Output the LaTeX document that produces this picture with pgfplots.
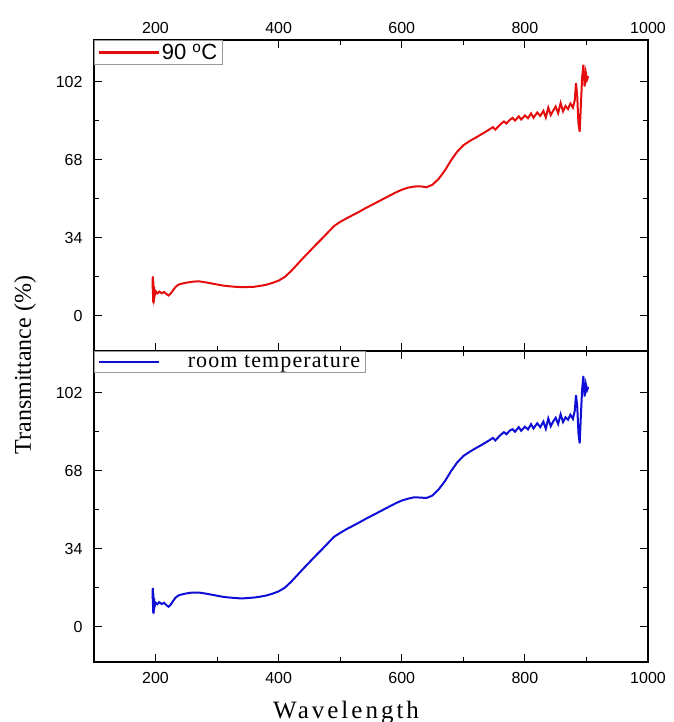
\documentclass[border=0pt]{standalone}
\usepackage{fontspec}
\setmainfont{Liberation Serif}
\setsansfont{Liberation Sans}
\usepackage{pgfplots}
\pgfplotsset{compat=1.18}
\usepackage{pgfplotstable}

\definecolor{hotred}{RGB}{228,12,12}
\definecolor{rtblue}{RGB}{14,14,214}

% transmittance at 90 C
\pgfplotstableread{
wl T
195 12
195.5 17.2
196 6
196.5 15
197 5.5
197.5 13
198 8
200 10.8
203 9.8
206 10.6
210 9.9
214 10.4
218 9.5
221 8.9
224 9.6
228 11
232 12.5
236 13.4
240 13.9
250 14.5
260 14.9
270 15.1
280 14.7
290 14.2
300 13.7
310 13.2
320 12.9
330 12.7
340 12.5
350 12.6
360 12.7
370 13.1
380 13.6
390 14.4
400 15.4
410 17
420 19.5
430 22.4
440 25.3
450 28.1
460 30.9
470 33.6
480 36.4
490 39.2
500 41
510 42.5
520 43.9
530 45.3
540 46.8
550 48.2
560 49.6
570 51
580 52.4
590 53.8
600 55
610 55.9
620 56.4
630 56.5
640 56.1
650 57.2
660 59.8
670 63.4
680 67.8
690 71.6
700 74.4
710 76.2
720 77.7
730 79.3
740 80.9
748 82.3
752 81.2
760 83.5
766 84.8
770 83.9
776 85.6
780 86.3
784 85.2
790 87
794 85.6
800 87.4
805 86.2
810 88.3
814 86.4
820 88.7
825 87.2
830 89.4
834 86.5
838 90.8
842 87.6
846 89.5
850 91.3
854 88.4
858 92.8
862 89.2
866 91.5
870 90.2
874 92.6
878 90.8
881 94
883 101.5
885 96
887 84
889 80.3
891 92
893 104
895 109.5
897 100
899 106
901 103
903 104.5
}\hotdata

% transmittance at room temperature
\pgfplotstableread{
wl T
195 12.5
195.5 17
196 6.2
196.5 14.6
197 5.8
197.5 12.6
198 8.4
200 10.6
203 9.9
206 10.8
210 10
214 10.5
218 9.4
221 8.8
224 9.5
228 11.1
232 12.6
236 13.5
240 14
250 14.6
260 15
270 15
280 14.6
290 14.1
300 13.6
310 13.1
320 12.8
330 12.6
340 12.4
350 12.6
360 12.8
370 13.2
380 13.7
390 14.5
400 15.5
410 17.1
420 19.6
430 22.5
440 25.4
450 28.2
460 31
470 33.7
480 36.5
490 39.3
500 41
510 42.6
520 44
530 45.4
540 46.9
550 48.3
560 49.7
570 51.1
580 52.5
590 53.9
600 55.1
610 55.9
620 56.5
630 56.4
640 56.2
650 57.3
660 60
670 63.5
680 67.9
690 71.7
700 74.5
710 76.3
720 77.9
730 79.4
740 81
748 82.4
752 81.3
760 83.6
766 84.9
770 84
776 85.7
780 86.2
784 85.1
790 87.1
794 85.5
800 87.3
805 86.1
810 88.4
814 86.5
820 88.8
825 87.1
830 89.5
834 86.4
838 90.9
842 87.5
846 89.6
850 91.2
854 88.5
858 92.7
862 89.3
866 91.4
870 90.3
874 92.5
878 90.7
881 94.2
883 101
885 96.4
887 84.5
889 80
891 92.4
893 103.6
895 109.4
897 100.4
899 105.8
901 103.2
903 104.6
}\rtdata

\pgfplotsset{
  panel/.style={
    scale only axis, width=554pt, height=311pt,
    xmin=100, xmax=1000, ymin=-15.3, ymax=120.3,
    xtick={200,400,600,800,1000}, minor x tick num=1,
    ytick={0,34,68,102}, minor y tick num=1,
    tick align=inside, major tick length=8pt, minor tick length=5pt,
    axis line style={line width=1.3pt},
    tick style={line width=1pt, black},
    ticklabel style={font=\sffamily\fontsize{16}{18}\selectfont},
    /pgf/number format/assume math mode=true,
    /pgf/number format/1000 sep={},
    yticklabel style={xshift=-8pt},
    legend style={at={(0,1)}, anchor=north west, draw=gray!80, line width=0.8pt,
      inner xsep=3pt, inner ysep=1.5pt, nodes={inner sep=2pt}},
    legend cell align=left,
    legend image code/.code={\draw[#1, line width=2.4pt] (0pt,0pt) -- (60pt,0pt);},
  }
}

\begin{document}
\begin{tikzpicture}
\path[use as bounding box] (-94pt,-371pt) rectangle (579pt,351pt);

\begin{axis}[panel, name=top, xticklabel pos=upper,
  xticklabel style={yshift=3pt},
  legend style={font=\sffamily\fontsize{22}{25}\selectfont}]
\addplot[hotred, line width=2pt, mark=none] table[x=wl, y=T] {\hotdata};
\addlegendentry{90 \textsuperscript{o}C}
\end{axis}

\begin{axis}[panel, name=bot, at={(top.south west)}, anchor=north west,
  xticklabel style={yshift=-7pt},
  xlabel={Wavelength},
  xlabel style={at={(axis description cs:0.455,0)}, anchor=base, yshift=-56pt,
    font=\fontsize{25}{28}\selectfont\addfontfeature{LetterSpace=12}},
  legend style={font=\fontsize{22}{24}\selectfont\addfontfeature{LetterSpace=5}}]
\addplot[rtblue, line width=2pt, mark=none] table[x=wl, y=T] {\rtdata};
\addlegendentry{\hspace{26pt}room temperature}
\end{axis}

\node[rotate=90, font=\fontsize{24}{26}\selectfont] at (-69pt,-14pt) {Transmittance (\%)};
\end{tikzpicture}
\end{document}
